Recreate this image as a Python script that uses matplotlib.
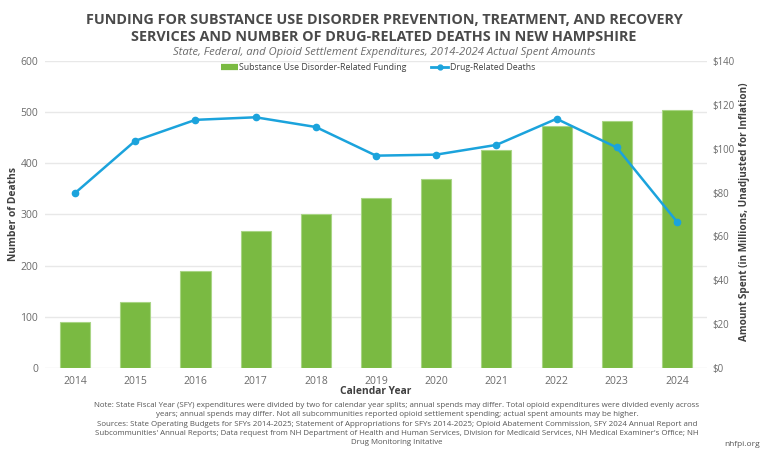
import matplotlib
matplotlib.use("Agg")
import matplotlib.pyplot as plt
from matplotlib.lines import Line2D
import numpy as np

years = ["2014", "2015", "2016", "2017", "2018", "2019", "2020", "2021", "2022", "2023", "2024"]
funding_millions = [21.2, 30.3, 44.2, 62.5, 70.0, 77.4, 86.1, 99.5, 110.4, 112.7, 117.7]
deaths = [342, 444, 485, 490, 471, 415, 417, 436, 487, 431, 286]
left_ticks = [0, 100, 200, 300, 400, 500, 600]
right_ticks = [0, 20, 40, 60, 80, 100, 120, 140]

plt.rcParams['font.family'] = ['Open Sans', 'DejaVu Sans']

GREEN = '#7aba42'
BLUE = '#1ba3dc'
DARK = '#404040'
GRAY = '#6b6b6b'
GRID = '#e8e8e8'

fig = plt.figure(figsize=(7.68, 4.54), dpi=100)
ax = fig.add_axes([45/768, 1-368/454, (707-45)/768, (368-61)/454])
ax2 = ax.twinx()

x = np.arange(len(years))
ax2.bar(x, funding_millions, width=0.5, color=GREEN, edgecolor='#a9d585', linewidth=0.8, zorder=2)
ax.plot(x, deaths, color=BLUE, lw=1.8, marker='o', ms=4.5, zorder=5)

ax.set_zorder(ax2.get_zorder() + 1)
ax.patch.set_visible(False)

ax.set_ylim(0, 600)
ax2.set_ylim(0, 140)
ax.set_xlim(-0.5, 10.5)
ax.set_yticks(left_ticks)
ax2.set_yticks(right_ticks)
ax2.set_yticklabels([f"${v}" for v in right_ticks])
ax.set_xticks(x)
ax.set_xticklabels(years)

for a in (ax, ax2):
    for s in a.spines.values():
        s.set_visible(False)
    a.tick_params(length=0, labelsize=7.5, labelcolor=GRAY)
ax2.tick_params(axis='y', labelsize=6.9)
ax.tick_params(axis='y', pad=5)
ax2.tick_params(axis='y', pad=3.8)
ax.tick_params(axis='x', pad=6)

for t in left_ticks:
    ax2.axhline(t * 140 / 600, color=GRID, lw=1, zorder=0)

ax.set_ylabel("Number of Deaths", fontsize=7.4, fontweight='bold', color=DARK)
ax2.set_ylabel("Amount Spent (in Millions, Unadjusted for Inflation)", fontsize=7.2,
               fontweight='bold', color=DARK)
ax.set_xlabel("Calendar Year", fontsize=7.4, fontweight='bold', color=DARK)

# place axis labels precisely in figure coordinates
ax.yaxis.set_label_coords(14/768, 1 - 214/454, transform=fig.transFigure)
ax2.yaxis.set_label_coords(745/768, 1 - 212/454, transform=fig.transFigure)
ax.xaxis.set_label_coords(376/768, 1 - 392/454, transform=fig.transFigure)
ax.yaxis.label.set_va('center')
ax2.yaxis.label.set_va('center')
ax.xaxis.label.set_va('center')

fig.text(0.5, 1-20/454, "FUNDING FOR SUBSTANCE USE DISORDER PREVENTION, TREATMENT, AND RECOVERY",
         ha='center', va='center', fontsize=10.4, fontweight='bold', color='#4a4a4a')
fig.text(0.5, 1-37/454, "SERVICES AND NUMBER OF DRUG-RELATED DEATHS IN NEW HAMPSHIRE",
         ha='center', va='center', fontsize=10.4, fontweight='bold', color='#4a4a4a')
fig.text(0.5, 1-52/454, "State, Federal, and Opioid Settlement Expenditures, 2014-2024 Actual Spent Amounts",
         ha='center', va='center', fontsize=8.1, style='italic', color=GRAY)

handles = [Line2D([0], [0], color=GREEN, lw=4.5, solid_capstyle='butt'),
           Line2D([0], [0], color=BLUE, lw=2, marker='o', ms=3.5)]
fig.legend(handles, ["Substance Use Disorder-Related Funding", "Drug-Related Deaths"],
           loc='center', bbox_to_anchor=(378/768, 1-68/454), ncol=2, frameon=False,
           fontsize=6.3, handlelength=1.9, handletextpad=0.2, columnspacing=2.8,
           labelcolor=DARK)

note = ("Note: State Fiscal Year (SFY) expenditures were divided by two for calendar year splits; annual spends may differ. Total opioid expenditures were divided evenly across\n"
        "years; annual spends may differ. Not all subcommunities reported opioid settlement spending; actual spent amounts may be higher.\n"
        "Sources: State Operating Budgets for SFYs 2014-2025; Statement of Appropriations for SFYs 2014-2025; Opioid Abatement Commission, SFY 2024 Annual Report and\n"
        "Subcommunities' Annual Reports; Data request from NH Department of Health and Human Services, Division for Medicaid Services, NH Medical Examiner's Office; NH\n"
        "Drug Monitoring Initative")
fig.text(397/768, 1-424/454, note, ha='center', va='center', fontsize=5.65, color='#555555',
         linespacing=1.42)
fig.text(742/768, 1-444/454, "nhfpi.org", ha='center', va='center', fontsize=6, color='#555555')

fig.savefig("out.png", dpi=100)
